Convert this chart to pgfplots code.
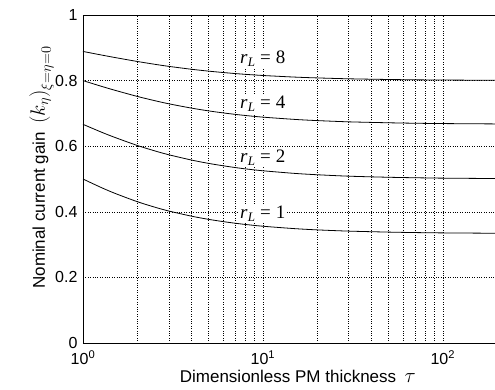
\documentclass[border=0pt]{standalone}
\usepackage{fontspec}
\setmainfont{Liberation Sans}
\newfontfamily\timesf{Liberation Serif}
\usepackage{pgfplots}
\pgfplotsset{compat=1.18}
\pgfplotstableread{
x r1 r2 r4 r8
1 0.5000 0.6667 0.8000 0.8889
1.25 0.4751 0.6441 0.7835 0.8786
1.5 0.4566 0.6270 0.7707 0.8705
2 0.4310 0.6024 0.7519 0.8584
2.5 0.4143 0.5859 0.7389 0.8498
3 0.4024 0.5739 0.7293 0.8434
4 0.3868 0.5579 0.7162 0.8346
5 0.3769 0.5475 0.7076 0.8288
6 0.3702 0.5404 0.7016 0.8247
7 0.3652 0.5350 0.6971 0.8215
8 0.3614 0.5309 0.6936 0.8191
10 0.3560 0.5251 0.6886 0.8156
15 0.3487 0.5171 0.6817 0.8107
20 0.3449 0.5130 0.6781 0.8082
30 0.3411 0.5086 0.6743 0.8055
50 0.3381 0.5053 0.6714 0.8034
70 0.3367 0.5038 0.6700 0.8024
100 0.3357 0.5026 0.6690 0.8017
200 0.3346 0.5014 0.6679 0.8009
}\datatable
\newcommand{\rl}[1]{{\timesf\fontsize{19}{19}\selectfont\itshape r\kern0.5pt\raisebox{-0.3ex}{\fontsize{13}{13}\selectfont L}\kern5pt\upshape=\kern5pt#1}}
\begin{document}
\begin{tikzpicture}
\begin{axis}[
  scale only axis, width=414pt, height=328pt,
  xmode=log, xmin=1, xmax=200, ymin=0, ymax=1,
  xtick={1,10,100},
  xticklabels={10\textsuperscript{0},10\textsuperscript{1},10\textsuperscript{2}},
  minor xtick={2,3,4,5,6,7,8,9,20,30,40,50,60,70,80,90,200},
  ytick={0,0.2,0.4,0.6,0.8,1},
  yticklabels={0,0.2,0.4,0.6,0.8,1},
  grid=both,
  major grid style={black, dotted, line width=0.6pt},
  minor grid style={black, dotted, line width=0.6pt},
  major tick length=0pt, minor tick length=0pt,
  axis line style={black, line width=0.8pt},
  tick label style={font=\fontsize{16}{16}\selectfont},
  xticklabel style={yshift=-4pt},
  yticklabel style={xshift=-2pt},
  every axis y label/.style={at={(rel axis cs:-0.092,0.535)}, rotate=90, anchor=base},
  every axis x label/.style={at={(rel axis cs:0.519,-0.119)}, anchor=base},
  ylabel={\fontsize{17}{17}\selectfont Nominal current gain\enspace{\fontsize{21}{21}\selectfont$\bigl(k_{\eta}\bigr)_{\xi=\eta=0}$}},
  xlabel={\fontsize{17}{17}\selectfont Dimensionless PM thickness\enspace{\fontsize{20}{20}\selectfont$\tau$}},
]
\addplot[black, line width=0.8pt, smooth] table[x=x, y=r1] {\datatable};
\addplot[black, line width=0.8pt, smooth] table[x=x, y=r2] {\datatable};
\addplot[black, line width=0.8pt, smooth] table[x=x, y=r4] {\datatable};
\addplot[black, line width=0.8pt, smooth] table[x=x, y=r8] {\datatable};
\node[anchor=base west, fill=white, inner sep=1.5pt] at (axis cs:7.3,0.852) {\rl{8}};
\node[anchor=base west, fill=white, inner sep=1.5pt] at (axis cs:7.3,0.714) {\rl{4}};
\node[anchor=base west, fill=white, inner sep=1.5pt] at (axis cs:7.3,0.550) {\rl{2}};
\node[anchor=base west, fill=white, inner sep=1.5pt] at (axis cs:7.3,0.379) {\rl{1}};
\coordinate (O) at (rel axis cs:0,0);
\end{axis}
\pgfresetboundingbox
\path (O) ++(-83pt,-46pt) rectangle ++(495pt,389pt);
\end{tikzpicture}
\end{document}
